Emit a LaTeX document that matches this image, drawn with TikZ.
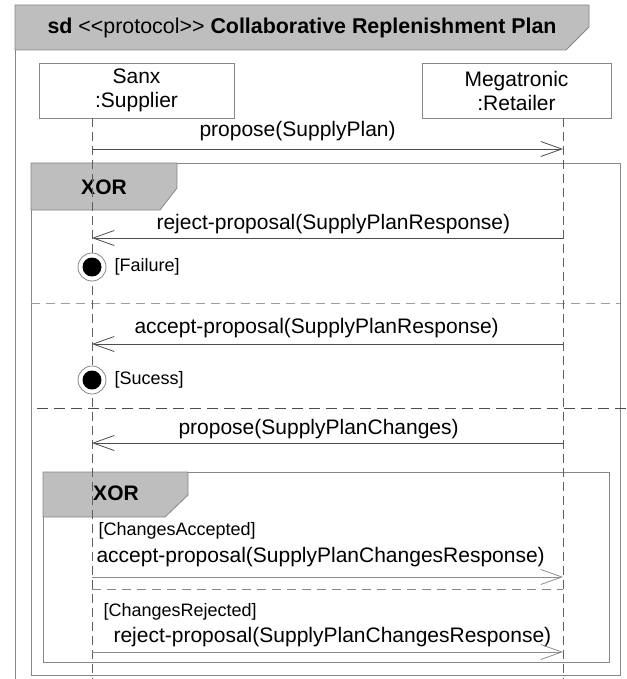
\documentclass[tikz,border=0pt]{standalone}
\usepackage{fontspec}
\setmainfont{Liberation Sans}
\usetikzlibrary{arrows.meta}
\definecolor{hdrgray}{RGB}{190,190,190}
\definecolor{framegray}{RGB}{135,135,135}
\definecolor{lifegray}{RGB}{95,95,95}
\tikzset{
  msgfont/.style={font=\fontsize{21}{24}\selectfont},
  guardfont/.style={font=\fontsize{18}{21}\selectfont},
  frame/.style={draw=framegray, line width=0.8pt},
  fraghead/.style={frame, fill=hdrgray},
  lifebox/.style={draw=framegray, fill=white, line width=0.8pt, align=center, inner sep=0pt, msgfont},
  lifeline/.style={draw=lifegray, line width=0.8pt, dash pattern=on 9pt off 5pt},
  msg/.style={draw=black!70, line width=0.9pt, -{Straight Barb[length=21pt,width=15pt,line width=0.8pt]}},
  msglight/.style={msg, draw=black!45},
  sep/.style={draw=framegray, line width=0.8pt, dash pattern=on 9pt off 6pt},
  finalstate/.style={circle, draw=framegray, fill=white, line width=0.8pt, minimum size=28pt, inner sep=0pt,
    path picture={\fill[black] (path picture bounding box.center) circle (9.5pt);}}
}
\begin{document}
\begin{tikzpicture}[x=1pt, y=-1pt]
  \useasboundingbox (0,0) rectangle (626,679);
  % frame of the diagram
  \draw[frame] (15,679) -- (15,5);
  \draw[fraghead] (15,5) -- (589,5) -- (589,27) -- (566,50) -- (15,50) -- cycle;
  \node[font=\fontsize{21.4}{24}\selectfont, anchor=west] (title) at (44,28) {\textbf{sd} <\kern0pt<protocol>\kern0pt> \textbf{Collaborative Replenishment Plan}};

  % outer XOR fragment
  \draw[frame] (31,163) rectangle (620,675);
  \draw[fraghead] (31,163) -- (177,163) -- (177,188) -- (160,210) -- (31,210) -- cycle;
  \node[font=\bfseries\fontsize{21}{24}\selectfont] (xor1) at (104,187) {XOR};
  \draw[sep, draw=framegray!80] (31,303) -- (620,303);
  \draw[sep, draw=black!70, line width=1pt, dash pattern=on 11pt off 6pt] (37,408) -- (626,408);

  % inner XOR fragment
  \draw[frame] (43,472) rectangle (609,662);
  \draw[fraghead] (43,472) -- (188,472) -- (188,495) -- (165,517) -- (43,517) -- cycle;
  \node[font=\bfseries\fontsize{21}{24}\selectfont] (xor2) at (116,493) {XOR};
  \draw[sep] (92,589) -- (563,589);

  % lifelines
  \node[lifebox, minimum width=195pt, minimum height=55pt] (sup) at (136.5,90.5) {Sanx\\:Supplier};
  \node[lifebox, minimum width=189pt, minimum height=55pt] (ret) at (516.5,90.5) {Megatronic\\:Retailer};
  \coordinate (supend) at (92,679);
  \coordinate (retend) at (563,679);
  \draw[lifeline] (sup.south -| supend) -- (supend);
  \draw[lifeline] (ret.south -| retend) -- (retend);

  % message ends
  \coordinate (s1) at (92,149);  \coordinate (r1) at (563,149);
  \coordinate (s2) at (92,238);  \coordinate (r2) at (563,238);
  \coordinate (s3) at (92,344);  \coordinate (r3) at (563,344);
  \coordinate (s4) at (92,443);  \coordinate (r4) at (563,443);
  \coordinate (s5) at (92,577);  \coordinate (r5) at (563,577);
  \coordinate (s6) at (92,652);  \coordinate (r6) at (563,652);

  \draw[msg] (s1) -- (r1);
  \node[msgfont, anchor=west] (m1) at (196,131) {propose(SupplyPlan)};
  \draw[msg] (r2) -- (s2);
  \node[msgfont, anchor=west] (m2) at (153,224) {reject-proposal(SupplyPlanResponse)};
  \node[finalstate] (fail) at (92,267) {};
  \node[guardfont, anchor=west] (g1) at (111,267) {[Failure]};
  \draw[msg] (r3) -- (s3);
  \node[msgfont, anchor=west] (m3) at (131,328) {accept-proposal(SupplyPlanResponse)};
  \node[finalstate] (succ) at (92,380) {};
  \node[guardfont, anchor=west] (g2) at (111,380) {[Sucess]};
  \draw[msg] (r4) -- (s4);
  \node[msgfont, anchor=west] (m4) at (175,429) {propose(SupplyPlanChanges)};

  \node[guardfont, anchor=west] (g3) at (95,531) {[ChangesAccepted]};
  \node[msgfont, anchor=west] (m5) at (93,557) {accept-proposal(SupplyPlanChangesResponse)};
  \draw[msglight] (s5) -- (r5);
  \node[guardfont, anchor=west] (g4) at (100,612) {[ChangesRejected]};
  \node[msgfont, anchor=west] (m6) at (110,637) {reject-proposal(SupplyPlanChangesResponse)};
  \draw[msglight] (s6) -- (r6);
\end{tikzpicture}
\end{document}
